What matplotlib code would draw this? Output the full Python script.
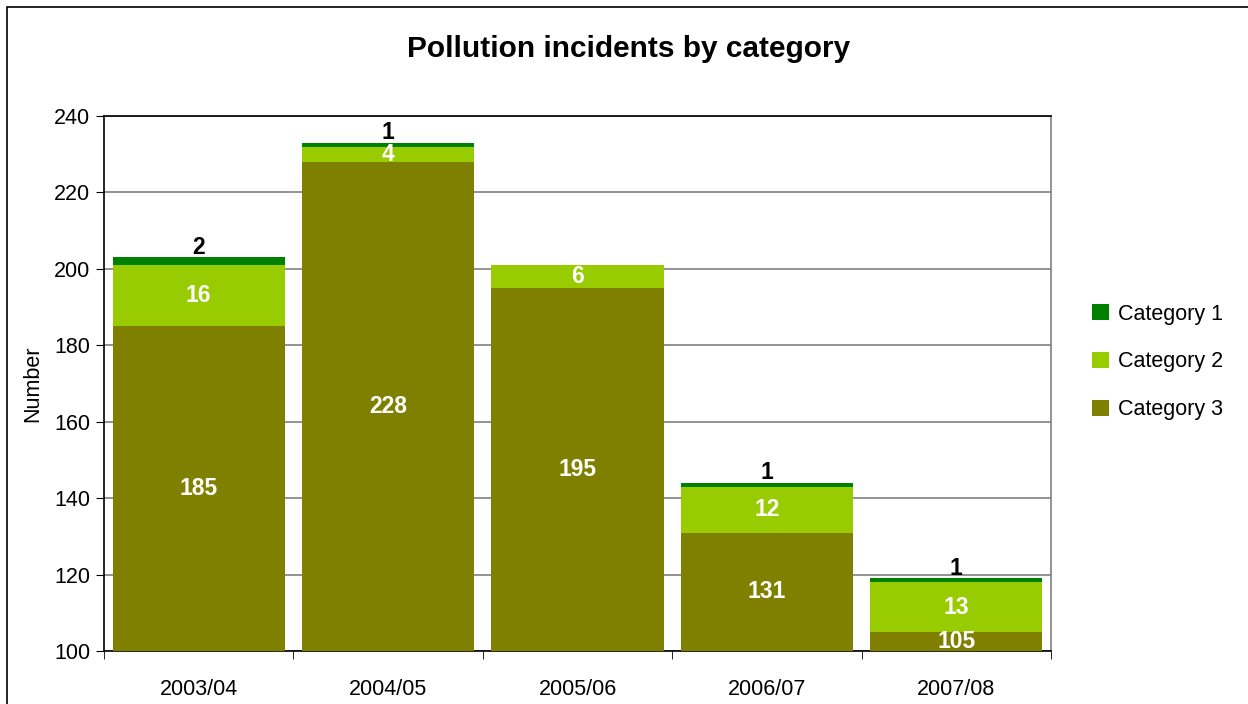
import numpy as np
import matplotlib.pyplot as plt
from matplotlib.patches import Rectangle

plt.rcParams["font.family"] = ["Liberation Sans", "DejaVu Sans"]

years = ["2003/04", "2004/05", "2005/06", "2006/07", "2007/08"]
cat3 = [185, 228, 195, 131, 105]
cat2 = [16, 4, 6, 12, 13]
cat1 = [2, 1, 0, 1, 1]

colors = {"Category 1": "#008000", "Category 2": "#99CC00", "Category 3": "#808000"}

fig = plt.figure(figsize=(12.48, 7.04), dpi=100)
W, H = 1248, 704

# outer chart frame (runs off the right / bottom edge)
fig.patches.append(Rectangle((7 / W, -0.1), 1.2, 1 - 7 / H + 0.1, transform=fig.transFigure,
                             fill=False, edgecolor="#000000", linewidth=1.2))

left, right, top, bottom = 104, 1051, 116, 651
ax = fig.add_axes([left / W, 1 - bottom / H, (right - left) / W, (bottom - top) / H])

x = np.arange(len(years))
width = 0.91

ax.bar(x, cat3, width, color=colors["Category 3"], label="Category 3", zorder=3)
ax.bar(x, cat2, width, bottom=cat3, color=colors["Category 2"], label="Category 2", zorder=3)
tops2 = np.array(cat3) + np.array(cat2)
ax.bar(x, cat1, width, bottom=tops2, color=colors["Category 1"], label="Category 1", zorder=3)

# data labels
for i in range(len(years)):
    mid3 = (100 + cat3[i]) / 2
    ax.text(x[i], mid3, str(cat3[i]), ha="center", va="center", color="white",
            fontsize=16.5, fontweight="bold", zorder=4)
    ax.text(x[i], cat3[i] + cat2[i] / 2, str(cat2[i]), ha="center", va="center",
            color="white", fontsize=16.5, fontweight="bold", zorder=4)
    if cat1[i] > 0:
        ax.annotate(str(cat1[i]), (x[i], tops2[i] + cat1[i]), xytext=(0, -1),
                    textcoords="offset points", ha="center", va="bottom",
                    fontsize=16.5, fontweight="bold", color="black", zorder=4)

ax.set_ylim(100, 240)
ax.set_xlim(-0.5, len(years) - 0.5)
ax.set_yticks(np.arange(100, 241, 20))
ax.tick_params(axis="y", labelsize=15.5, length=6, direction="out", pad=4)
ax.set_xticks(x)
ax.set_xticklabels(years)
ax.tick_params(axis="x", labelsize=15.5, length=0, pad=20)
ax.set_xticks(np.arange(-0.5, len(years)), minor=True)
ax.tick_params(axis="x", which="minor", length=6, direction="out")
ax.yaxis.grid(True, color="#808080", linewidth=1.2, zorder=0)
ax.set_axisbelow(True)

for side in ["left", "bottom", "top"]:
    ax.spines[side].set_color("black")
    ax.spines[side].set_linewidth(1.2)
ax.spines["right"].set_color("#808080")
ax.spines["right"].set_linewidth(1.2)

ax.set_ylabel("Number", fontsize=15.5, labelpad=8)
fig.text(629 / W, 1 - 49 / H, "Pollution incidents by category", ha="center", va="center",
         fontsize=21.5, fontweight="bold")

handles, labels = ax.get_legend_handles_labels()
order = [2, 1, 0]
leg = fig.legend([handles[k] for k in order], [labels[k] for k in order],
                 loc="center left", bbox_to_anchor=(1073 / W, 1 - 362 / H),
                 frameon=False, fontsize=15.5, handlelength=0.75, handleheight=0.75,
                 labelspacing=1.25, handletextpad=0.45)

fig.savefig("out.png", dpi=100)
